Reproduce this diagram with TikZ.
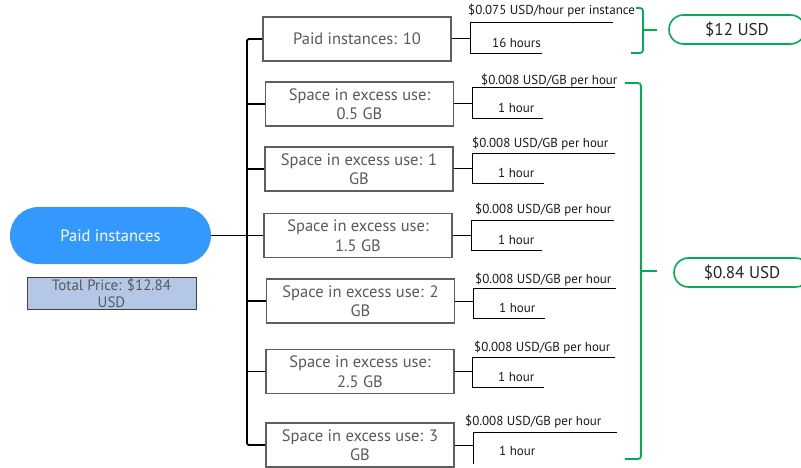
\documentclass[tikz,border=0pt]{standalone}
\usepackage{fontspec}
\setmainfont{PT Sans}
\definecolor{boxgray}{HTML}{5E5E5E}
\definecolor{txtgray}{HTML}{595959}
\definecolor{ovalblue}{RGB}{51,153,255}
\definecolor{pricefill}{HTML}{B4C7E7}
\definecolor{brgreen}{HTML}{00B050}
\begin{document}
\begin{tikzpicture}[x=1pt,y=-1pt,
  box/.style={draw=boxgray, line width=1.6pt, minimum width=188pt, minimum height=44pt, inner sep=0pt, align=center, text=txtgray, font=\fontsize{16.5}{19.5}\selectfont},
  lab/.style={anchor=base west, inner sep=0pt, font=\fontsize{13}{14}\selectfont, text=black!90},
  fork/.style={line width=1pt},
  trunk/.style={line width=1.8pt, rounded corners=2pt},
  brace/.style={draw=brgreen, line width=1.8pt, rounded corners=3pt},
  pill/.style={draw=brgreen, line width=1.6pt, fill=white, minimum height=29pt, minimum width=136pt, rounded corners=14.5pt, inner sep=0pt, text=black!85, font=\fontsize{17}{20}\selectfont}
]
\useasboundingbox (0,0) rectangle (801,468);

% left oval and price box
\node[fill=ovalblue, minimum width=201pt, minimum height=57pt, rounded corners=28.5pt, inner sep=0pt, text=white, font=\fontsize{16.5}{19.5}\selectfont] (oval) at (110.5,235.5) {Paid instances};
\node[draw=black!75, line width=1pt, fill=pricefill, minimum width=169pt, minimum height=32pt, inner sep=0pt, align=center, text=txtgray, font=\fontsize{15}{17}\selectfont] (price) at (111.5,293) {Total Price: \$12.84\\USD};

% boxes
\node[box] (b1) at (357,39) {Paid instances: 10};
\node[box] (b2) at (359.5,104) {Space in excess use:\\0.5 GB};
\node[box] (b3) at (359,169) {Space in excess use: 1\\GB};
\node[box] (b4) at (358,235.5) {Space in excess use:\\1.5 GB};
\node[box] (b5) at (360.5,301) {Space in excess use: 2\\GB};
\node[box] (b6) at (360,371.5) {Space in excess use:\\2.5 GB};
\node[box] (b7) at (360,445) {Space in excess use: 3\\GB};

% trunk
\coordinate (tk1) at (247,39);
\coordinate (tk7) at (247,445);
\draw[trunk] (oval.east) -- (b4.west);
\draw[trunk] (b1.west) -- (tk1) -- (tk7) -- (b7.west);
\foreach \b in {b2,b3,b5,b6} \draw[trunk] (\b.west) -- (\b.west -| tk1);

% forks
\coordinate (f1) at (470,39);  \coordinate (ft1) at (470,23);  \coordinate (fb1) at (470,54);  \coordinate (te1) at (613,23); \coordinate (be1) at (542,54);
\coordinate (f2) at (472,104); \coordinate (ft2) at (472,88);  \coordinate (fb2) at (472,119); \coordinate (te2) at (615,88); \coordinate (be2) at (543,119);
\coordinate (f3) at (472,169); \coordinate (ft3) at (472,154); \coordinate (fb3) at (472,184); \coordinate (te3) at (615,154); \coordinate (be3) at (544,184);
\coordinate (f4) at (471,235.5); \coordinate (ft4) at (471,220); \coordinate (fb4) at (471,250); \coordinate (te4) at (614,220); \coordinate (be4) at (542,250);
\coordinate (f5) at (473,301); \coordinate (ft5) at (473,288); \coordinate (fb5) at (473,318); \coordinate (te5) at (616,288); \coordinate (be5) at (545,318);
\coordinate (f6) at (472,371.5); \coordinate (ft6) at (472,357); \coordinate (fb6) at (472,387); \coordinate (te6) at (615,357); \coordinate (be6) at (544,387);
\coordinate (f7) at (473,445); \coordinate (ft7) at (473,432); \coordinate (fb7) at (473,464); \coordinate (te7) at (617,432);

\foreach \i in {1,...,7} \draw[fork] (b\i.east) -- (f\i);
\foreach \i in {1,...,6} \draw[fork] (te\i) -- (ft\i) -- (fb\i) -- (be\i);
\draw[fork] (te7) -- (ft7) -- (fb7);

% labels
\node[lab] (r1) at (468,15) {\$0.075 USD/hour per instance};
\node[lab] (h1) at (492,48) {16 hours};
\node[lab] (r2) at (481,85) {\$0.008 USD/GB per hour};
\node[lab] (h2) at (498,113) {1 hour};
\node[lab] (r3) at (472,148) {\$0.008 USD/GB per hour};
\node[lab] (h3) at (498,178) {1 hour};
\node[lab] (r4) at (475,213) {\$0.008 USD/GB per hour};
\node[lab] (h4) at (498,244) {1 hour};
\node[lab] (r5) at (475,283) {\$0.008 USD/GB per hour};
\node[lab] (h5) at (499,312) {1 hour};
\node[lab] (r6) at (474,351) {\$0.008 USD/GB per hour};
\node[lab] (h6) at (498,381) {1 hour};
\node[lab] (r7) at (465,425) {\$0.008 USD/GB per hour};
\node[lab] (h7) at (499,455) {1 hour};

% green braces
\coordinate (g1t) at (643,8);  \coordinate (g1b) at (643,53); \coordinate (g1m) at (643,30);
\draw[brace] (636,8) -- (g1t) -- (g1b) -- (631,53);
\draw[brace] (g1m) -- (657,30);
\coordinate (g2t) at (641,83); \coordinate (g2b) at (641,459); \coordinate (g2m) at (641,271);
\draw[brace] (625,83) -- (g2t) -- (g2b) -- (625,459);
\draw[brace] (g2m) -- (657,271);

% totals
\node[pill] (p1) at (737,29.5) {\$12 USD};
\node[pill] (p2) at (742,272.5) {\$0.84 USD};
\end{tikzpicture}
\end{document}
